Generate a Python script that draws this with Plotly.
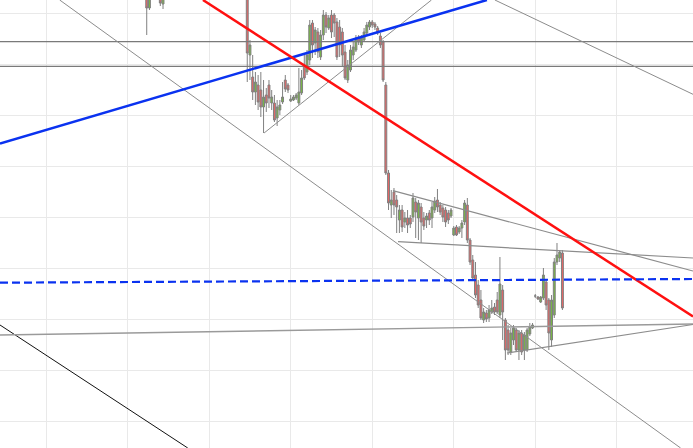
import plotly.graph_objects as go

# ---- candle data (bar index, open, high, low, close) ----
bar_x = [37, 38, 39, 40, 41, 42, 43,
         74, 75, 76, 77, 78, 79, 80, 81, 82, 83, 84, 85, 86, 87, 88, 89, 90, 91, 92, 93, 94, 95, 96, 97,
         98, 99, 100, 101, 102, 103, 104, 105, 106, 107, 108, 109, 110, 111, 112, 113, 114, 115, 116, 117,
         118, 119, 120, 121, 122, 123, 124, 125, 126, 127, 128, 129, 130, 131, 132, 133, 134, 135, 136, 137,
         138, 139, 140, 141, 142, 143, 144, 145, 146, 147, 148, 149, 150, 151, 152, 153, 154, 155, 156, 157,
         158, 159, 160, 161, 162, 163, 164, 165, 166, 167, 168, 169, 170, 171, 172, 173, 174, 175, 176, 177,
         178, 179, 180, 181, 182, 183, 184, 185, 186, 187, 188, 189, 190]
bar_open = [431, 413, 426, 436, 430, 424, 417,
            426, 366, 344, 329, 336, 331, 314, 326, 336, 318, 318, 303, 311, 319, 341, 336, 320, 321, 323, 318, 328, 356, 349, 361,
            398, 378, 389, 364, 386, 406, 393, 406, 406, 399, 394, 389, 369, 341, 351, 366, 371, 384, 376, 381,
            388, 394, 399, 397, 393, 385, 379, 336, 248, 216, 229, 221, 201, 211, 199, 203, 203, 204, 219, 203,
            214, 203, 201, 208, 203, 211, 221, 216, 213, 211, 208, 205, 186, 194, 189, 193, 199, 216, 181, 161,
            146, 136, 121, 101, 108, 103, 109, 114, 121, 106, 131, 101, 91, 69, 81, 91, 71, 88, 71, 71,
            87, 93, 125, 124, 119, 123, 139, 121, 81, 106, 159, 163, 168]
bar_high = [441, 436, 446, 442, 434, 429, 429,
            441, 381, 366, 349, 346, 349, 341, 333, 341, 331, 326, 321, 321, 339, 346, 338, 326, 326, 328, 353, 351, 366, 371, 401,
            401, 394, 393, 391, 411, 409, 406, 411, 408, 403, 401, 393, 376, 361, 376, 379, 386, 386, 386, 393,
            399, 401, 401, 399, 395, 388, 381, 339, 251, 231, 233, 226, 216, 216, 209, 211, 206, 228, 223, 221,
            218, 209, 208, 211, 219, 224, 232, 219, 216, 214, 211, 213, 195, 196, 195, 201, 221, 223, 183, 166,
            159, 141, 131, 113, 111, 116, 121, 118, 129, 164, 136, 103, 96, 93, 96, 93, 91, 91, 89, 93,
            98, 98, 127, 125, 125, 153, 141, 123, 126, 163, 178, 171, 171]
bar_low = [386, 411, 423, 426, 422, 415, 412,
           339, 341, 321, 316, 311, 304, 288, 309, 313, 311, 299, 295, 306, 317, 329, 328, 319, 320, 321, 316, 326, 341, 346, 356,
           363, 366, 363, 361, 381, 388, 391, 383, 384, 361, 364, 354, 341, 338, 349, 361, 369, 376, 373, 379,
           386, 391, 393, 391, 386, 373, 339, 246, 211, 203, 206, 188, 188, 189, 193, 188, 193, 199, 183, 181,
           178, 191, 193, 196, 193, 208, 209, 206, 199, 194, 197, 203, 185, 185, 187, 183, 196, 178, 156, 141,
           123, 113, 101, 98, 99, 99, 107, 106, 107, 103, 81, 61, 66, 66, 76, 69, 61, 66, 61, 69,
           85, 92, 123, 121, 118, 121, 111, 71, 74, 103, 156, 159, 111]
bar_close = [413, 426, 436, 430, 425, 418, 424,
             368, 376, 329, 339, 319, 314, 324, 318, 323, 324, 301, 314, 316, 324, 332, 331, 322, 324, 326, 329, 343, 343, 366, 396,
             376, 391, 369, 386, 406, 394, 403, 389, 398, 364, 376, 366, 343, 356, 371, 374, 383, 379, 383, 389,
             396, 399, 396, 394, 388, 376, 341, 248, 218, 221, 216, 214, 211, 194, 203, 196, 197, 223, 209, 218,
             199, 195, 205, 201, 214, 220, 214, 209, 204, 199, 201, 211, 193, 186, 193, 198, 218, 181, 159, 143,
             126, 116, 103, 109, 102, 111, 113, 109, 109, 137, 109, 71, 71, 88, 93, 71, 88, 69, 86, 91,
             94, 96, 125, 122, 124, 146, 116, 88, 121, 159, 166, 169, 113]

# ---- drawn lines: [x0, x1], [y0, y1] ----
blue_trend_x, blue_trend_y = [-17, 162.2], [277.5, 421]
red_trend_x, red_trend_y = [57.7, 238.06], [421, 104.5]
blue_level_x, blue_level_y = [-17, 238.06], [138.3, 142]
level_hi_x, level_hi_y = [-17, 238.06], [379.3, 379.3]
level_lo_x, level_lo_y = [-17, 238.06], [354.7, 354.7]
chan_x, chan_y = [4.97, 233.5], [421, -27]
topright_x, topright_y = [165.15, 238.06], [421, 326.7]
black_x, black_y = [-17, 52.1], [96, -27]
long_flat_x, long_flat_y = [-17, 238.06], [86, 97]
low_tri_x, low_tri_y = [169.6, 238.06], [68, 96.5]
up_tri_x, up_tri_y = [80.2, 141.8], [288, 421]
mid_tri_up_x, mid_tri_up_y = [127.6, 238.06], [230.3, 150]
mid_tri_lo_x, mid_tri_lo_y = [129.5, 238.06], [179.3, 163]

fig = go.Figure()

def seg(xs, ys, color, width, dash=None):
    fig.add_trace(go.Scatter(x=xs, y=ys, mode="lines",
                             line=dict(color=color, width=width, dash=dash),
                             hoverinfo="skip", showlegend=False))

seg(level_hi_x, level_hi_y, "#7a7a7a", 1.2)
seg(level_lo_x, level_lo_y, "#7a7a7a", 1.2)
seg(chan_x, chan_y, "#8c8c8c", 1)
seg(topright_x, topright_y, "#8c8c8c", 1)
seg(black_x, black_y, "#111111", 1)
seg(long_flat_x, long_flat_y, "#9a9a9a", 1.4)
seg(low_tri_x, low_tri_y, "#8c8c8c", 1.2)
seg(up_tri_x, up_tri_y, "#8c8c8c", 1)
seg(mid_tri_up_x, mid_tri_up_y, "#8c8c8c", 1.2)
seg(mid_tri_lo_x, mid_tri_lo_y, "#8c8c8c", 1.2)

fig.add_trace(go.Candlestick(
    x=bar_x, open=bar_open, high=bar_high, low=bar_low, close=bar_close,
    increasing=dict(line=dict(color="#808080", width=1), fillcolor="#78b943"),
    decreasing=dict(line=dict(color="#808080", width=1), fillcolor="#ec6464"),
    whiskerwidth=0, showlegend=False, hoverinfo="skip"))

seg(blue_trend_x, blue_trend_y, "#0a32f0", 2.5)
seg(red_trend_x, red_trend_y, "#ff1010", 2.5)
seg(blue_level_x, blue_level_y, "#0a32f0", 2.2, dash="8px,4px")

fig.update_layout(
    width=693, height=448,
    margin=dict(l=0, r=0, t=0, b=0),
    paper_bgcolor="white", plot_bgcolor="white",
    boxgap=0.0,
    xaxis=dict(range=[-17, 238.06], showticklabels=False, tick0=0, dtick=30,
               showgrid=True, gridcolor="#e9e9e9", gridwidth=1, zeroline=False,
               showline=False, rangeslider=dict(visible=False), fixedrange=True),
    yaxis=dict(range=[-27, 421], showticklabels=False, tick0=0, dtick=51,
               showgrid=True, gridcolor="#e9e9e9", gridwidth=1, zeroline=False,
               showline=False, fixedrange=True),
)

fig.write_html("out.html", config={"displayModeBar": False},
               post_script="document.body.style.margin='0';document.body.style.overflow='hidden';")
